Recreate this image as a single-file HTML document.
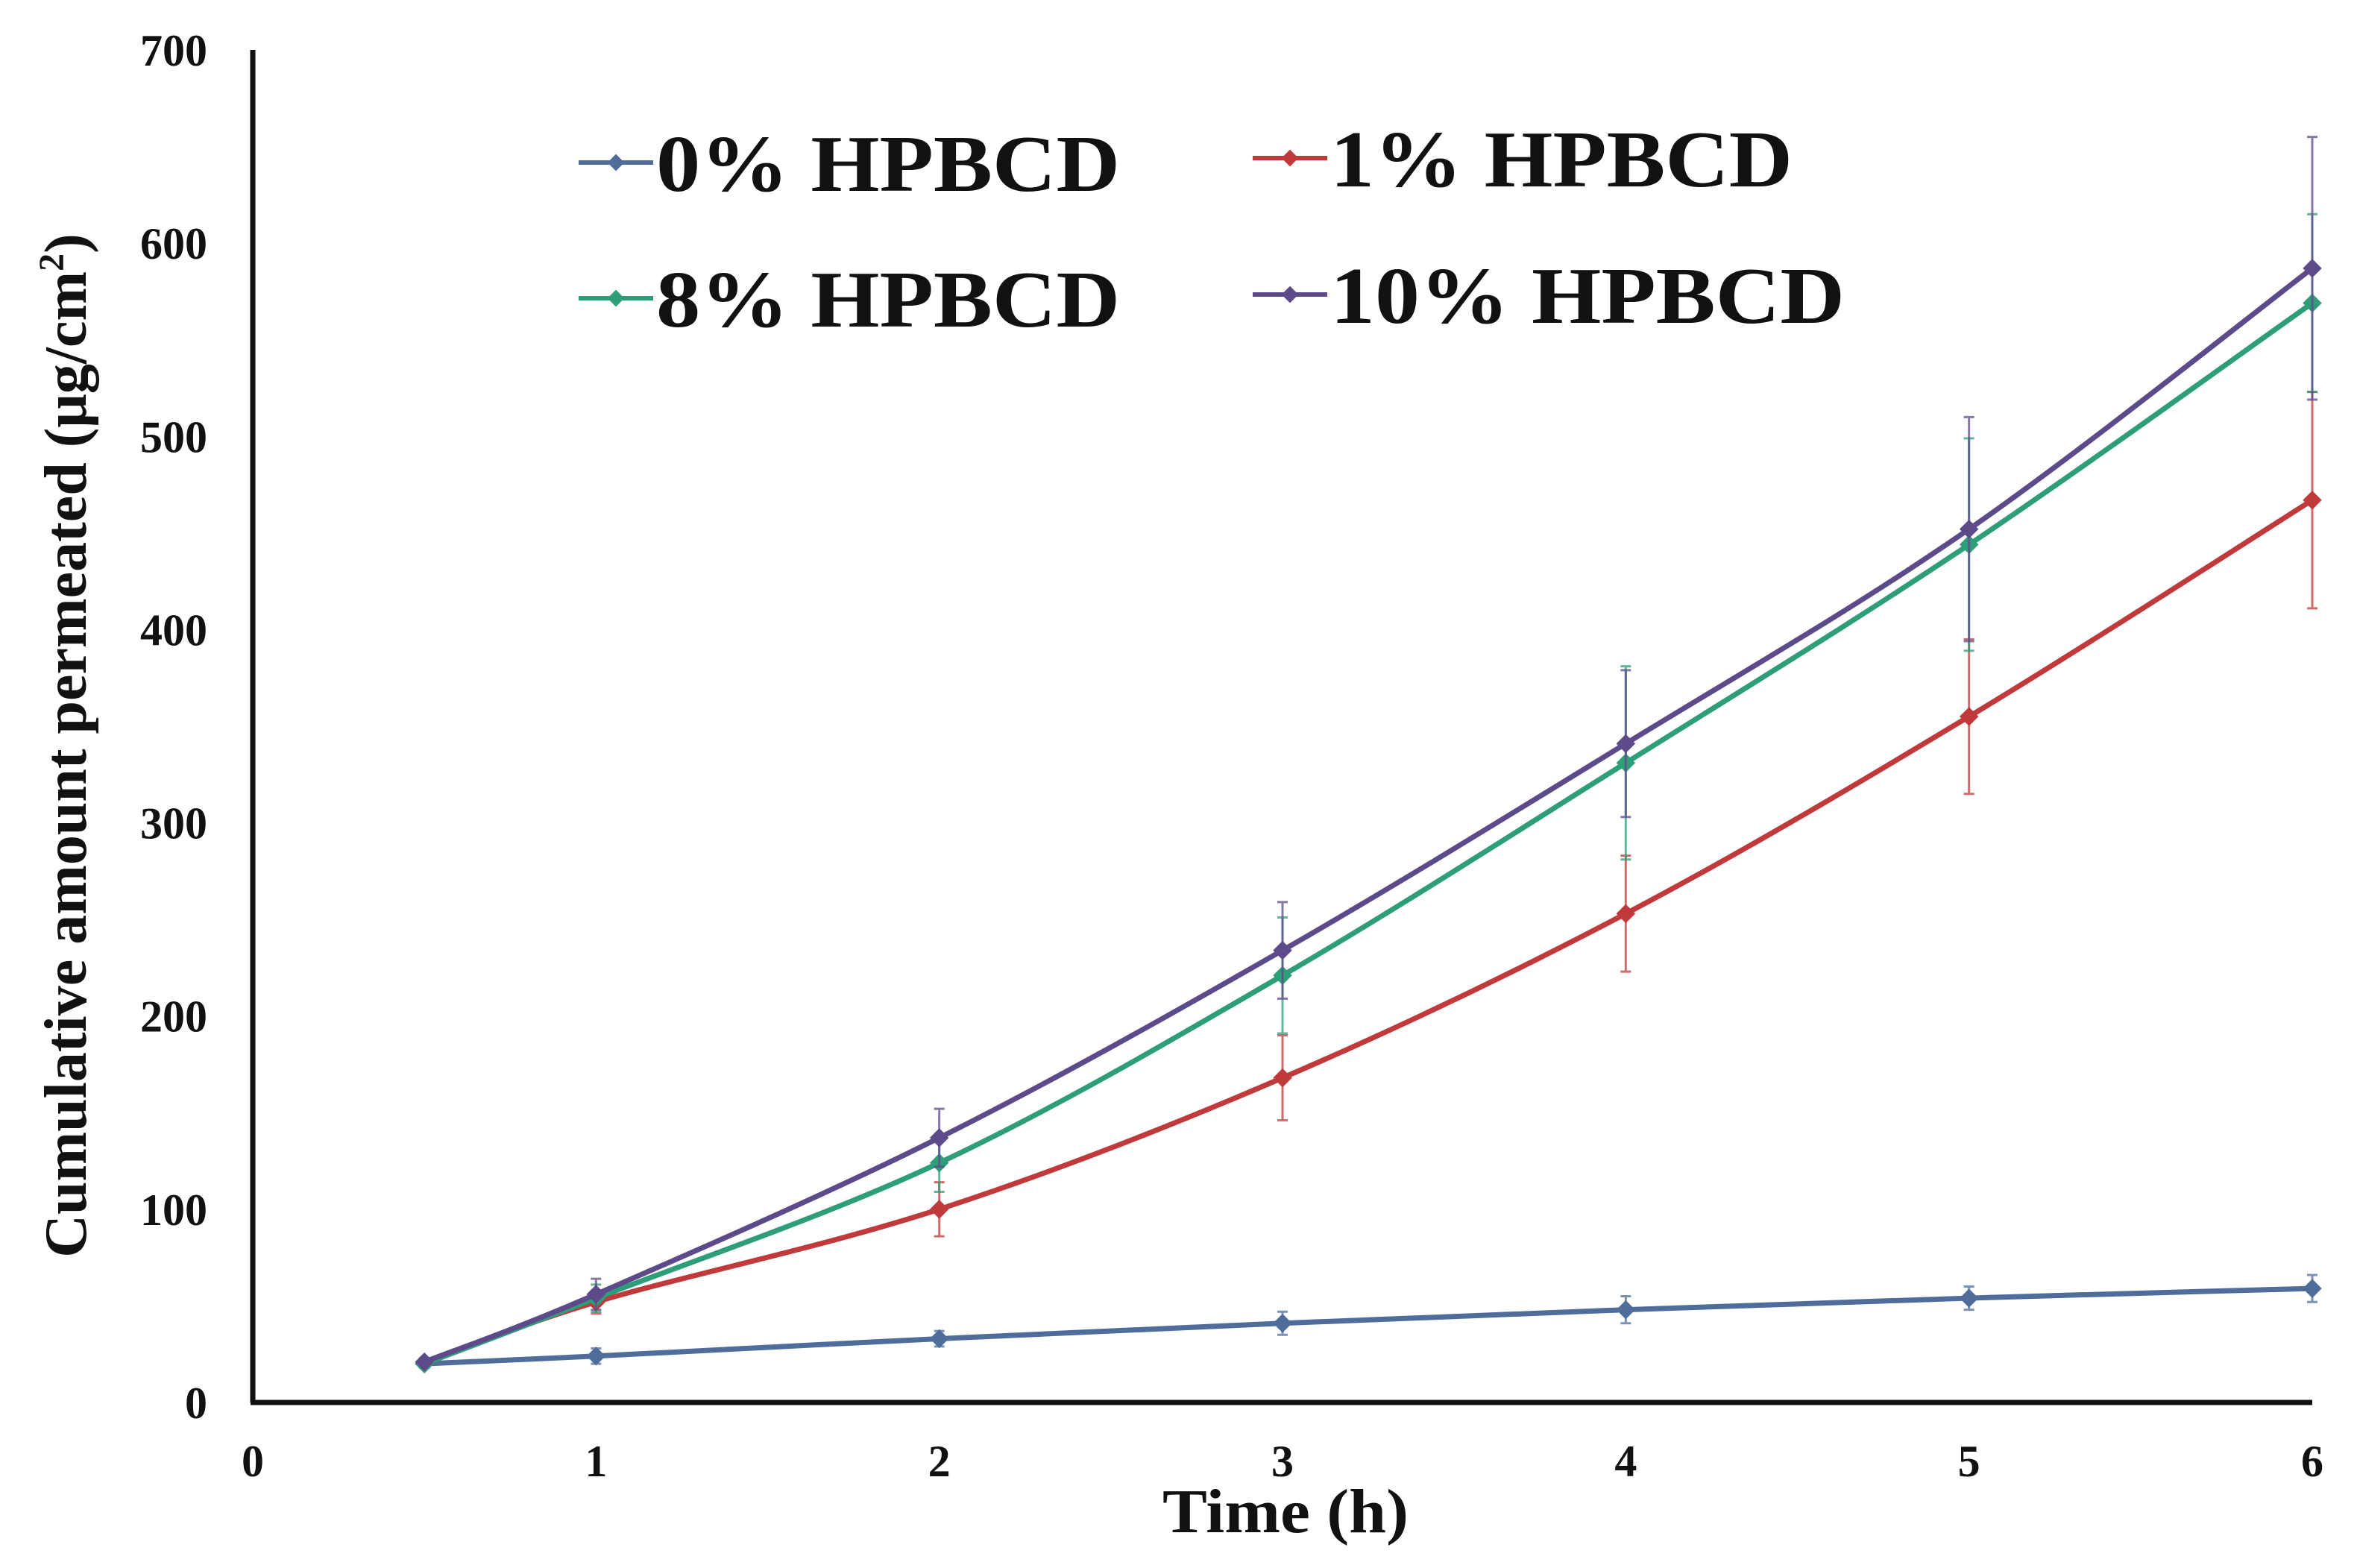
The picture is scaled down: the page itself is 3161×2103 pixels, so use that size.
<!DOCTYPE html>
<html><head><meta charset="utf-8"><style>
html,body{margin:0;padding:0;background:#fff;}
svg{display:block;font-family:"Liberation Serif",serif;}
</style></head><body>
<svg id="chart" width="3161" height="2103" viewBox="0 0 3161 2103" xmlns="http://www.w3.org/2000/svg">
<rect width="3161" height="2103" fill="#fff"/>
<g id="series"></g>
<g id="axes"></g>
<g id="legend"></g>
</svg>
<script>
const times = [0.5, 1, 2, 3, 4, 5, 6];
const seriesNames = ["0% HPBCD", "1% HPBCD", "8% HPBCD", "10% HPBCD"];
const vals0 = [20, 24, 33, 41, 48, 54, 59];
const vals1 = [20, 52, 100, 168, 253, 355, 467];
const vals8 = [20, 54, 124, 221, 331, 444, 569];
const vals10 = [21, 56, 137, 234, 341, 452, 587];
const err0 = [2, 4, 4, 6, 7, 6, 7];
const err1 = [2, 6, 14, 22, 30, 40, 56];
const err8 = [2, 7, 15, 30, 50, 55, 46];
const err10 = [2, 8, 15, 25, 38, 58, 68];
const xTicks = [0, 1, 2, 3, 4, 5, 6];
const yTicks = [0, 100, 200, 300, 400, 500, 600, 700];

const NS = "http://www.w3.org/2000/svg";
const X0 = 339, X1 = 3101, Y0 = 1881, Y1 = 67;
const xs = v => X0 + (v - 0) / 6 * (X1 - X0);
const ys = v => Y0 - v / 700 * (Y0 - Y1);
function mk(tag, attrs, parent) {
  const e = document.createElementNS(NS, tag);
  for (const k in attrs) e.setAttribute(k, attrs[k]);
  parent.appendChild(e);
  return e;
}
const axes = document.getElementById("axes");
const seriesG = document.getElementById("series");
const legend = document.getElementById("legend");

const ya = mk("line", {x1: X0, y1: Y1, x2: X0, y2: Y0, stroke: "#111", "stroke-width": 7}, axes);


const xa = mk("line", {x1: X0 - 3, y1: Y0, x2: X1, y2: Y0, stroke: "#111", "stroke-width": 7}, axes);


yTicks.forEach(t => {
  const tx = mk("text", {x: 278, y: ys(t) + 21, "text-anchor": "end", "font-size": 60, "font-weight": "bold", fill: "#111"}, axes);
  tx.textContent = t;
  
  
});
xTicks.forEach(t => {
  const tx = mk("text", {x: xs(t), y: 1980, "text-anchor": "middle", "font-size": 60, "font-weight": "bold", fill: "#111"}, axes);
  tx.textContent = t;
  
  
});
const xt = mk("text", {x: 1724, y: 2055, "text-anchor": "middle", "font-size": 84, "font-weight": "bold", fill: "#111", textLength: 330, lengthAdjust: "spacingAndGlyphs"}, axes);
xt.textContent = "Time (h)";


const yt = mk("text", {x: 0, y: 0, "text-anchor": "middle", "font-size": 80, "font-weight": "bold", fill: "#111", transform: "translate(115,1000) rotate(-90)"}, axes);
yt.innerHTML = 'Cumulative amount permeated (μg/cm<tspan dy="-30" font-size="48">2</tspan><tspan dy="30">)</tspan>';



const colors = ["#4f6d9b", "#c0393b", "#2e9e7a", "#5d4a8a"];
const allVals = [vals0, vals1, vals8, vals10];
const allErr = [err0, err1, err8, err10];
const slugs = ["0pct", "1pct", "8pct", "10pct"];

function smoothPath(pts) {
  let d = `M${pts[0][0]},${pts[0][1]}`;
  for (let i = 0; i < pts.length - 1; i++) {
    const p0 = pts[Math.max(i - 1, 0)], p1 = pts[i], p2 = pts[i + 1], p3 = pts[Math.min(i + 2, pts.length - 1)];
    const c1x = p1[0] + (p2[0] - p0[0]) / 6, c1y = p1[1] + (p2[1] - p0[1]) / 6;
    const c2x = p2[0] - (p3[0] - p1[0]) / 6, c2y = p2[1] - (p3[1] - p1[1]) / 6;
    d += ` C${c1x},${c1y} ${c2x},${c2y} ${p2[0]},${p2[1]}`;
  }
  return d;
}

[0, 1, 2, 3].forEach(s => {
  const g = mk("g", {}, seriesG);
  
  
  times.forEach((t, i) => {
    const v = allVals[s][i], e = allErr[s][i];
    const eb = mk("path", {d: `M${xs(t)},${ys(v - e)}V${ys(v + e)}M${xs(t) - 7},${ys(v - e)}h14M${xs(t) - 7},${ys(v + e)}h14`, stroke: colors[s], "stroke-width": 3, fill: "none", opacity: 0.75}, g);
    
    
  });
  const pts = times.map((t, i) => [xs(t), ys(allVals[s][i])]);
  const ln = mk("path", {d: smoothPath(pts), stroke: colors[s], "stroke-width": 7, fill: "none"}, g);
  
  
  pts.forEach(p => {
    const m = mk("rect", {x: p[0] - 9, y: p[1] - 9, width: 18, height: 18, fill: colors[s], transform: `rotate(45 ${p[0]} ${p[1]})`}, g);
    
    
  });
});

const legPos = [[776, 218], [1680, 212], [776, 400], [1680, 395]];
const legLen = [622, 620, 622, 690];
[0, 1, 2, 3].forEach(s => {
  const [lx, ly] = legPos[s];
  const g = mk("g", {}, legend);
  
  
  mk("line", {x1: lx, y1: ly, x2: lx + 100, y2: ly, stroke: colors[s], "stroke-width": 6}, g);
  mk("rect", {x: lx + 42, y: ly - 8, width: 16, height: 16, fill: colors[s], transform: `rotate(45 ${lx + 50} ${ly})`}, g);
  const t = mk("text", {x: lx + 104, y: ly + 38, "font-size": 108, "font-weight": "bold", fill: "#111", textLength: legLen[s], lengthAdjust: "spacingAndGlyphs"}, g);
  t.textContent = seriesNames[s];
});
</script>
</body></html>
